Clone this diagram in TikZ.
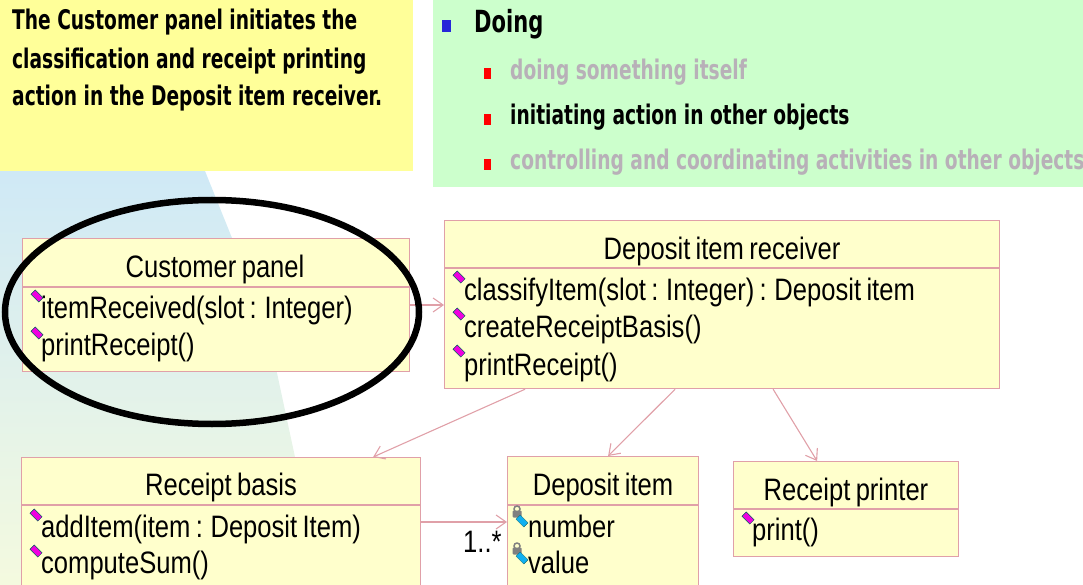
\documentclass[tikz,border=0pt]{standalone}
\usepackage{fontspec}
\usepackage{xcolor}
\usetikzlibrary{arrows,arrows.meta}
\newfontfamily\umlfont[FakeStretch=0.825,WordSpace=0.75]{Liberation Sans}
\newfontfamily\notefont[FakeStretch=0.69]{DejaVu Sans}
\definecolor{classfill}{HTML}{FFFFCC}
\definecolor{classline}{HTML}{E0A0A8}
\definecolor{notefill}{HTML}{FFFF99}
\definecolor{doingfill}{HTML}{CCFFCC}
\definecolor{dimtext}{HTML}{B8B0B8}
\definecolor{backtop}{HTML}{CFE9F6}
\definecolor{backbottom}{HTML}{F4FADF}
\definecolor{opcolor}{HTML}{F000E0}
\definecolor{attrcolor}{HTML}{10B0F0}
\tikzset{
  classbox/.style={draw=classline,fill=classfill,line width=1.2pt,inner sep=0pt,anchor=north west},
  title/.style={anchor=base,inner sep=0pt,font=\umlfont\fontsize{31}{31}\selectfont},
  member/.style={anchor=base west,inner sep=0pt,font=\umlfont\fontsize{31}{31}\selectfont},
  note/.style={anchor=base west,inner sep=0pt,font=\notefont\bfseries\fontsize{27}{27}\selectfont},
  link/.style={draw=classline,line width=1.1pt,-{Straight Barb[length=10pt,width=14pt]}},
  opmark/.style={fill=opcolor,draw=teal!70!black,line width=.4pt,rotate=45,minimum width=6pt,minimum height=11pt,inner sep=0pt},
  attrmark/.style={fill=attrcolor,draw=teal!70!black,line width=.3pt,rotate=45,minimum width=6pt,minimum height=11pt,inner sep=0pt},
  lockmark/.style={fill=gray,rounded corners=1pt,minimum width=9pt,minimum height=7pt,inner sep=0pt},
}
\begin{document}
\begin{tikzpicture}[x=1pt,y=-1pt]
\useasboundingbox (0,0) rectangle (1083,585);
\clip (0,0) rectangle (1083,585);
% backdrop
\shade[top color=backtop,bottom color=backbottom] (0,171) -- (205,171) -- (232,238) -- (277,373) -- (295,457) -- (295,585) -- (0,585) -- cycle;
% notes
\fill[notefill] (0,0) rectangle (413,171);
\fill[doingfill] (433,0) rectangle (1083,187);
\node[note] (n1) at (12,30) {The Customer panel initiates the};
\node[note] (n2) at (12,69) {classification and receipt printing};
\node[note] (n3) at (12,106) {action in the Deposit item receiver.};
\fill[blue!70!gray] (442,20) rectangle (451,32);
\node[note,font=\notefont\bfseries\fontsize{30.5}{31}\selectfont] (d0) at (474,33) {Doing};
\foreach \y in {68,114,159} \fill[red] (484,\y) rectangle (491,\y+11);
\node[note,text=dimtext] (d1) at (510,80) {doing something itself};
\node[note] (d2) at (510,125) {initiating action in other objects};
\node[note,text=dimtext] (d3) at (510,170) {controlling and coordinating activities in other objects};
% classes
\node[classbox,minimum width=387pt,minimum height=133pt] (panel) at (22,238) {};
\node[classbox,minimum width=555pt,minimum height=168pt] (receiver) at (444,220) {};
\node[classbox,minimum width=399pt,minimum height=150pt] (basis) at (21,457) {};
\node[classbox,minimum width=191pt,minimum height=150pt] (item) at (507,456) {};
\node[classbox,minimum width=225pt,minimum height=95pt] (printer) at (733,461) {};
\draw[classline,line width=1.2pt] (22,287) -- (409,287);
\draw[classline,line width=1.2pt] (444,268) -- (999,268);
\draw[classline,line width=1.2pt] (21,505) -- (420,505);
\draw[classline,line width=1.2pt] (507,505) -- (698,505);
\draw[classline,line width=1.2pt] (733,509) -- (958,509);
\node[title] (panelname) at (215,277) {Customer panel};
\node[title] (receivername) at (722,259) {Deposit item receiver};
\node[title] (basisname) at (221,495) {Receipt basis};
\node[title] (itemname) at (603,495) {Deposit item};
\node[title] (printername) at (846,500) {Receipt printer};
\node[member] (m1) at (41,318) {itemReceived(slot : Integer)};
\node[member] (m2) at (41,355) {printReceipt()};
\node[member] (m3) at (464,300) {classifyItem(slot : Integer) : Deposit item};
\node[member] (m4) at (464,337) {createReceiptBasis()};
\node[member] (m5) at (464,375) {printReceipt()};
\node[member] (m6) at (41,537) {addItem(item : Deposit Item)};
\node[member] (m7) at (41,573) {computeSum()};
\node[member] (m8) at (528,537) {number};
\node[member] (m9) at (528,573) {value};
\node[member] (m10) at (752,540) {print()};
\node[member] (many) at (463,552) {1..*};
\foreach \x/\y in {37/296,37/333,459/277,459/314,459/351,36/515,36/551,748/518}
  \node[opmark] at (\x,\y) {};
\foreach \y in {514,551} {
  \node[lockmark] at (517,\y) {};
  \draw[gray,line width=1.5pt] (517,\y-5) circle (3pt);
  \node[attrmark] at (522,\y+7) {};
}
% links
\draw[link] (panel.east |- 0,305) -- (receiver.west |- 0,305);
\draw[link] (basis.east |- 0,522) -- (item.west |- 0,522);
\draw[link] ([xshift=-197pt]receiver.south) -- ([xshift=152pt]basis.north);
\draw[link] ([xshift=-47pt]receiver.south) -- ([xshift=5pt]item.north);
\draw[link] ([xshift=51pt]receiver.south) -- ([xshift=-29pt]printer.north);
% highlight
\draw[line width=6.5pt] (212,312) ellipse [x radius=207,y radius=112];
\end{tikzpicture}
\end{document}
